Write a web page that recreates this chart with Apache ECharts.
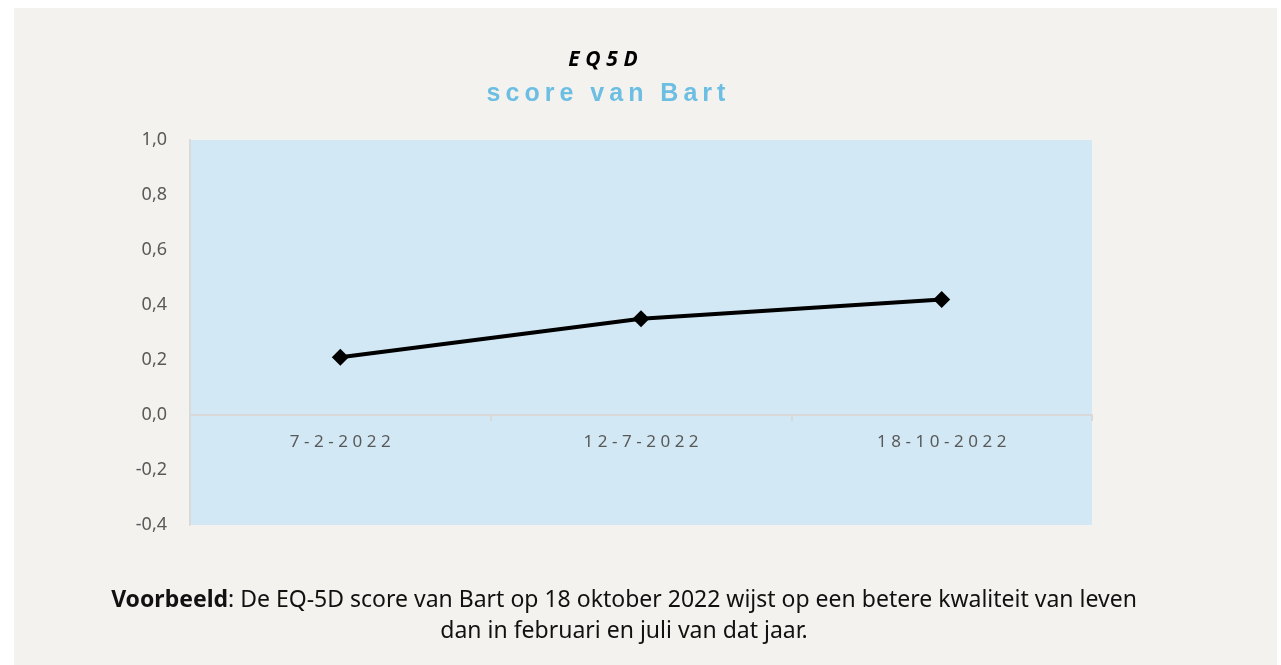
<!DOCTYPE html>
<html>
<head>
<meta charset="utf-8">
<script src="https://cdn.jsdelivr.net/npm/echarts@6/dist/echarts.min.js"></script>
<style>
  html, body { margin: 0; padding: 0; background: #fff; }
  #chart { width: 1281px; height: 665px; }
</style>
</head>
<body>
<div id="chart"></div>
<script>
var categories = ["7-2-2022", "12-7-2022", "18-10-2022"]
var scores = [0.21, 0.35, 0.42]
var yTicks = { min: -0.4, max: 1.0, step: 0.2 }

// spreid letters uit zoals in het origineel
function spaced(s, sp){
    return s.split("").join(sp || "\u2009")
}

var chart = echarts.init(document.getElementById("chart"))
var font = "'Source Sans Pro', 'Noto Sans', 'Open Sans', sans-serif"

var option = {
    backgroundColor: "#ffffff",
    animation: false,
    graphic: [{
        type: "rect",
        z: -10,
        shape: { x: 14, y: 8, width: 1263, height: 657 },
        style: { fill: "#f3f2ee" }
    }],
    title: [{
        text: spaced("EQ5D", "\u2009\u200a"),
        left: 598, top: 45, textAlign: "center",
        textStyle: { fontFamily: "Open Sans", fontStyle: "italic", fontWeight: "bold", fontSize: 21, color: "#000" }
    }, {
        text: spaced("score van Bart", "\u2009"),
        left: 601, top: 77, textAlign: "center",
        textStyle: { fontFamily: "Liberation Sans", fontWeight: "bold", fontSize: 25, color: "#6cbee3" }
    }, {
        text: "{b|Voorbeeld}: De EQ-5D score van Bart op 18 oktober 2022 wijst op een betere kwaliteit van leven\ndan in februari en juli van dat jaar.",
        left: 619, top: 580, textAlign: "center",
        textStyle: {
            fontFamily: font, fontSize: 23, fontWeight: "normal", color: "#111", lineHeight: 31, align: "center",
            rich: { b: { fontFamily: font, fontSize: 23, fontWeight: "bold", color: "#111" } }
        }
    }],
    grid: {
        left: 190, top: 140, width: 902, height: 385,
        show: true, backgroundColor: "#d2e8f4", borderWidth: 0
    },
    xAxis: {
        type: "category",
        data: categories,
        boundaryGap: true,
        offset: -110,
        axisLine: { onZero: false, lineStyle: { color: "#d9d9d9", width: 2 } },
        axisTick: { show: true, length: 6, lineStyle: { color: "#d9d9d9", width: 2 } },
        axisLabel: {
            margin: 19, fontFamily: font, fontSize: 17, color: "#595959",
            formatter: function(v){ return spaced(v, "\u2009\u200a") }
        }
    },
    yAxis: {
        type: "value",
        min: yTicks.min, max: yTicks.max, interval: yTicks.step,
        axisLine: { show: true, onZero: false, lineStyle: { color: "#d9d9d9", width: 2 } },
        axisTick: { show: false },
        splitLine: { show: false },
        axisLabel: {
            margin: 23, fontFamily: font, fontSize: 18, color: "#595959",
            formatter: function(v){ return v.toFixed(1).replace(".", ",") }
        }
    },
    series: [{
        type: "line",
        data: scores,
        symbol: "diamond",
        symbolSize: 17,
        lineStyle: { color: "#000", width: 4 },
        itemStyle: { color: "#000" }
    }]
}
chart.setOption(option)
</script>
</body>
</html>
